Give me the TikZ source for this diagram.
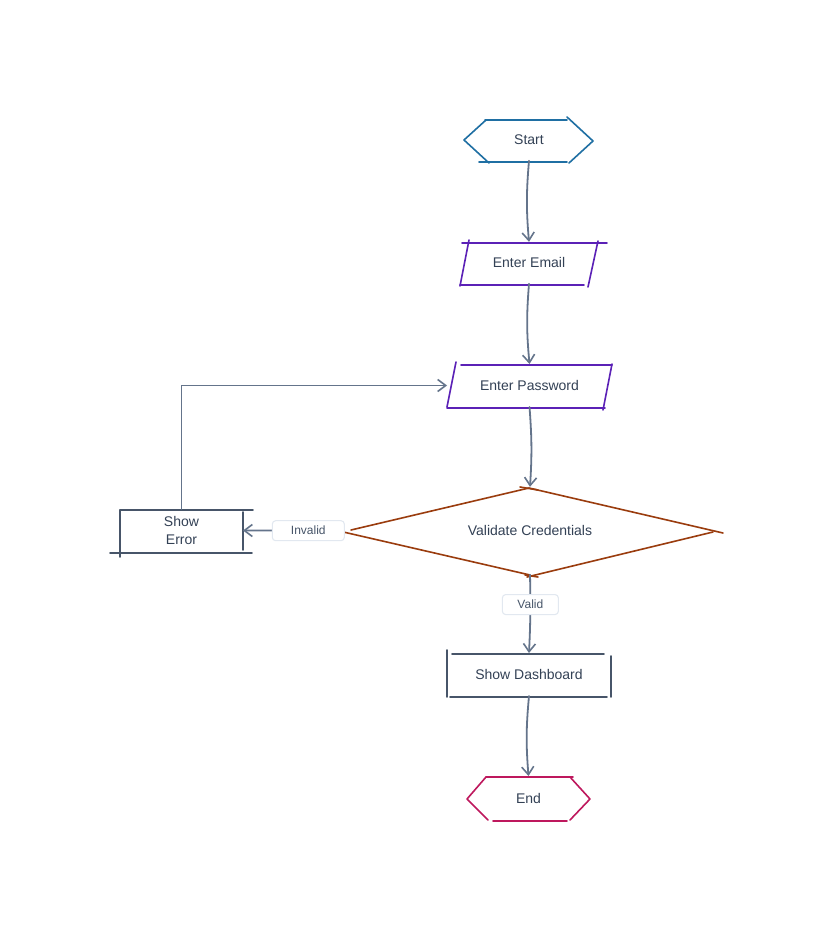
\documentclass[tikz,border=0pt]{standalone}
\usepackage{fontspec}
\setmainfont{Liberation Sans}
\usetikzlibrary{arrows.meta}
\definecolor{cblue}{HTML}{1F6FA3}
\definecolor{cpurple}{HTML}{5B21B6}
\definecolor{cbrown}{HTML}{9A3C0E}
\definecolor{cslate}{HTML}{475569}
\definecolor{ccrimson}{HTML}{BE185D}
\definecolor{carrow}{HTML}{64748B}
\definecolor{ctext}{HTML}{334155}
\definecolor{clabel}{HTML}{E2E8F0}
\definecolor{clbltext}{HTML}{475569}
\begin{document}
\begin{tikzpicture}[x=0.75pt,y=-0.75pt, line cap=round, line join=round,
  txt/.style={font=\fontsize{10.5}{13.5}\selectfont, text=ctext, inner sep=0pt, outer sep=0pt, align=center},
  edge/.style={draw=carrow, line width=1.35pt, -{Straight Barb[length=6pt,width=9pt,line width=1.2pt]}},
  lbl/.style={fill=white, draw=clabel, line width=0.8pt, rounded corners=2.5pt, font=\fontsize{9}{11}\selectfont, text=clbltext, minimum height=15pt, inner xsep=0pt, inner ysep=0pt},
  ol/.style={line width=1.2pt}]
\useasboundingbox[fill=white] (0,0) rectangle (835,941);

% node texts (sized to the outlines)
\node[txt, minimum width=96pt, minimum height=31.5pt] (start) at (529,139.8) {Start};
\node[txt, minimum width=103.5pt, minimum height=31.5pt] (email) at (529,262.8) {Enter Email};
\node[txt, minimum width=123.75pt, minimum height=32.25pt] (pass) at (529.5,385.5) {Enter Password};
\node[txt, minimum width=284.25pt, minimum height=66pt] (val) at (530,530.8) {Validate Credentials};
\node[txt, minimum width=92.25pt, minimum height=32.25pt] (err) at (181.5,530.5) {Show\\Error};
\node[txt, minimum width=123pt, minimum height=32.25pt] (dash) at (529,674.5) {Show Dashboard};
\node[txt, minimum width=92.25pt, minimum height=33pt] (fin) at (528.5,798) {End};

% Start hexagon
\begin{scope}[ol, cblue]
\draw (485,120)--(567,120);
\draw (486,120)--(464,140)--(489,163);
\draw (479,162)--(567,162);
\draw (567,117)--(593,141)--(569,163);
\end{scope}

% Enter Email
\begin{scope}[ol, cpurple]
\draw (462,243)--(607,243);
\draw (469,240)--(460,286);
\draw (460,285)--(584,285);
\draw (598,241)--(588,287);
\end{scope}

% Enter Password
\begin{scope}[ol, cpurple]
\draw (461,365)--(612,365);
\draw (456,362)--(447,407);
\draw (447,408)--(605,408);
\draw (612,364)--(603,410);
\end{scope}

% Validate diamond
\begin{scope}[ol, cbrown]
\draw (351,530)--(529,488)--(723,533);
\draw (339,531)--(530,575);
\draw (713,532)--(527,577);
\draw (520,487)--(538,490);
\draw (525,575)--(538,577);
\end{scope}

% Show Error
\begin{scope}[ol, cslate]
\draw (120,510)--(253,510);
\draw (120,510)--(120,557);
\draw (110,553)--(252,553);
\draw (243,512)--(243,550);
\end{scope}

% Show Dashboard
\begin{scope}[ol, cslate]
\draw (452,654)--(604,654);
\draw (447,650)--(447,697);
\draw (450,697)--(607,697);
\draw (611,656)--(611,697);
\end{scope}

% End hexagon
\begin{scope}[ol, ccrimson]
\draw (486,777)--(573,777);
\draw (486,777)--(467,799)--(488,820);
\draw (493,821)--(567,821);
\draw (570,777)--(590,799)--(570,820);
\end{scope}

% connectors
\draw[edge] (start.south) to[bend right=5] (email.north);
\draw[edge] (email.south) to[bend right=5] (pass.north);
\draw[edge] (pass.south) to[bend left=4] (val.north);
\draw[edge] (val.south) to[bend left=2] node[lbl, pos=0.37, minimum width=42pt] {Valid} (dash.north);
\draw[edge] (val.west) -- node[lbl, pos=0.33, minimum width=54pt] {Invalid} (err.east);
\draw[edge] (err.north) |- (pass.west);
\draw[edge] (dash.south) to[bend right=5] (fin.north);
\end{tikzpicture}
\end{document}
